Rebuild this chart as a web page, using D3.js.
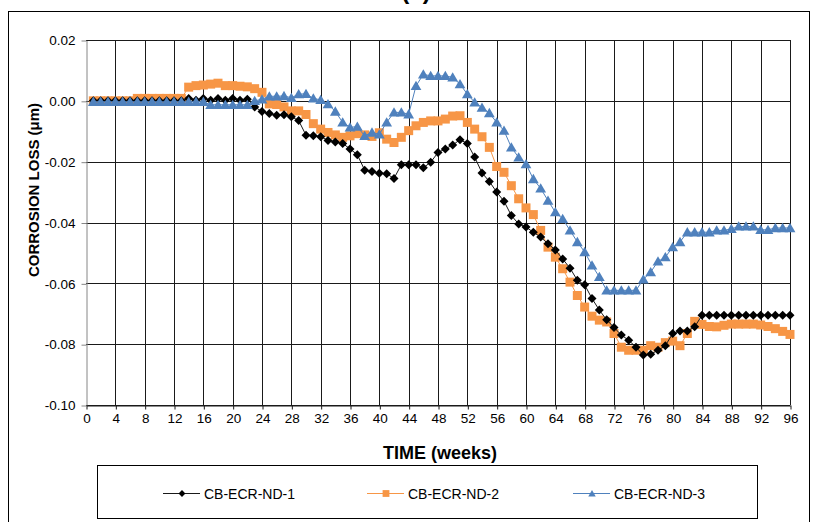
<!DOCTYPE html>
<html>
<head>
<meta charset="utf-8">
<script src="https://cdn.jsdelivr.net/npm/d3@7"></script>
<style>
body { margin: 0; background: #fff; }
svg { display: block; font-family: "Liberation Sans", Arial, sans-serif; }
</style>
</head>
<body>
<svg width="816" height="522"></svg>
<script>
var xTicks = [0, 4, 8, 12, 16, 20, 24, 28, 32, 36, 40, 44, 48, 52, 56, 60, 64, 68, 72, 76, 80, 84, 88, 92, 96]
var yTicks = [0.02, 0.00, -0.02, -0.04, -0.06, -0.08, -0.10]
var seriesNames = ['CB-ECR-ND-1', 'CB-ECR-ND-2', 'CB-ECR-ND-3']

// corrosion loss per week, weeks 1..96
var nd1 = [0, 0, 0, 0, 0, 0, 0, 0, 0, 0, 0, 0, 0,
    0.0008, 0.0002, 0.0008, 0.0002, 0.0008, 0.0002, 0.0008, 0.0002, 0.0005,
    -0.002, -0.0035, -0.0042, -0.0047, -0.0046, -0.0052, -0.0065, -0.0113, -0.0115, -0.0118,
    -0.013, -0.0135, -0.014, -0.0158, -0.0177, -0.0228, -0.0232, -0.0238, -0.024, -0.0255,
    -0.021, -0.021, -0.021, -0.022, -0.0202, -0.017, -0.0158, -0.0145, -0.0128, -0.014,
    -0.0185, -0.0237, -0.0265, -0.030, -0.033, -0.0377, -0.0405, -0.0415, -0.0432, -0.0448,
    -0.047, -0.049, -0.052, -0.055, -0.059, -0.0605, -0.065, -0.0688, -0.072, -0.0745,
    -0.077, -0.0787, -0.081, -0.0836, -0.0833, -0.082, -0.0805, -0.0765, -0.0757, -0.0757,
    -0.0743, -0.0705,
    -0.0705, -0.0705, -0.0705, -0.0705, -0.0705, -0.0705, -0.0705, -0.0705, -0.0705, -0.0705, -0.0705, -0.0705]

var nd2 = [0, 0, 0, 0, 0, 0,
    0.0008, 0.0008, 0.0008, 0.0008, 0.0008, 0.0008, 0.0008,
    0.0045, 0.005, 0.0052, 0.0055, 0.0058, 0.005, 0.005, 0.0048, 0.0046, 0.004, 0.0028,
    -0.001, -0.0012, -0.002, -0.0033, -0.0033, -0.0045, -0.0075, -0.0093, -0.0104, -0.0112,
    -0.012, -0.0115, -0.0108, -0.0112, -0.0117, -0.0105, -0.0126, -0.0137, -0.012, -0.0098,
    -0.0082, -0.0071, -0.0066, -0.0066, -0.006, -0.005, -0.0049, -0.0071, -0.0093, -0.0118,
    -0.0153, -0.0216, -0.0235, -0.0279, -0.0322, -0.0352, -0.0374, -0.0426, -0.0481, -0.0514,
    -0.0552, -0.0596, -0.064, -0.0678, -0.0708, -0.0721, -0.0727, -0.0765, -0.081, -0.082,
    -0.082, -0.082, -0.0805, -0.081, -0.0795, -0.079, -0.0805, -0.0765, -0.0725, -0.0735,
    -0.0742, -0.0743, -0.0738, -0.0734, -0.0734, -0.0734, -0.0734, -0.0737, -0.0742, -0.0749,
    -0.0758, -0.0768]

var nd3 = [-0.0003, -0.0003, -0.0003, -0.0003, -0.0003, -0.0003, -0.0003, -0.0003,
    -0.0003, -0.0003, -0.0003, -0.0003, -0.0003, -0.0003, -0.0003, -0.0003,
    -0.0013, -0.0013, -0.0013, -0.0013, -0.0013, -0.0013,
    0.0, 0.0005, 0.0015, 0.0015, 0.0016, 0.001, 0.0022, 0.0023, 0.0008, 0.0003,
    -0.0011, -0.0035, -0.0071, -0.0087, -0.0085, -0.0115, -0.0104, -0.011, -0.0071, -0.0038,
    -0.0038, -0.0044, 0.0049, 0.0087, 0.0082, 0.0082, 0.0082, 0.0077, 0.0055, 0.0022,
    -0.0005, -0.0022, -0.004, -0.0071, -0.0098, -0.0153, -0.0186, -0.0208, -0.0257, -0.0288,
    -0.0328, -0.0366, -0.0388, -0.0426, -0.0464, -0.0497, -0.0541, -0.0579, -0.0623, -0.0623,
    -0.0623, -0.0623, -0.0623, -0.0587, -0.0563, -0.0528, -0.0514, -0.0481, -0.0464, -0.0432,
    -0.0432, -0.0432, -0.0432, -0.0426, -0.0426, -0.0421, -0.0413, -0.0413, -0.0413, -0.0424,
    -0.0424, -0.0418, -0.0418, -0.0418]

var svg = d3.select('svg')
var margin = {left: 86, right: 26, top: 40, bottom: 117}
var width = 816 - margin.left - margin.right
var height = 522 - margin.top - margin.bottom

var x = d3.scaleLinear().domain([0, 96]).range([margin.left, margin.left + width])
var y = d3.scaleLinear().domain([-0.1, 0.02]).range([margin.top + height, margin.top])

// chart frame and clipped title
svg.append('rect')
    .attr('x', 8.5).attr('y', 11.5)
    .attr('width', 801).attr('height', 530)
    .style('fill', 'none').style('stroke', '#000').style('stroke-width', 1)

svg.append('text')
    .attr('x', 416).attr('y', -1)
    .attr('text-anchor', 'middle')
    .style('font-size', '24px').style('font-weight', 'bold')
    .text('(c)')

// grid
var grid = svg.append('g')
grid.selectAll('.vg')
    .data(xTicks.slice(1))
    .enter().append('line')
    .attr('x1', d => Math.round(x(d)) + 0.5).attr('x2', d => Math.round(x(d)) + 0.5)
    .attr('y1', y(0.02)).attr('y2', y(-0.1))
    .style('stroke', '#1a1a1a').style('stroke-width', 1)
grid.selectAll('.hg')
    .data(yTicks)
    .enter().append('line')
    .attr('x1', x(0)).attr('x2', x(96))
    .attr('y1', d => Math.round(y(d)) + 0.5).attr('y2', d => Math.round(y(d)) + 0.5)
    .style('stroke', '#1a1a1a').style('stroke-width', 1)

// axes
var yAxis = svg.append('g')
    .attr('transform', `translate(${margin.left + 0.5},0.5)`)
    .call(d3.axisLeft(y).tickValues(yTicks).tickFormat(d => d.toFixed(2)).tickSize(5).tickSizeOuter(0).tickPadding(6))
yAxis.select('.domain').style('stroke', '#868686')
yAxis.selectAll('.tick line').style('stroke', '#868686')
yAxis.selectAll('text').style('font-size', '13.5px').style('font-family', '"Liberation Sans", Arial, sans-serif').style('fill', '#000')

var xAxis = svg.append('g')
    .attr('transform', `translate(0.5,${Math.round(y(-0.1)) + 0.5})`)
    .call(d3.axisBottom(x).tickValues(xTicks).tickSize(4).tickSizeOuter(0).tickPadding(4))
xAxis.select('.domain').style('stroke', '#1a1a1a')
xAxis.selectAll('.tick line').style('stroke', '#1a1a1a')
xAxis.selectAll('text').style('font-size', '13.5px').style('font-family', '"Liberation Sans", Arial, sans-serif').style('fill', '#000')

svg.append('text')
    .attr('x', 440).attr('y', 459)
    .attr('text-anchor', 'middle')
    .style('font-size', '18px').style('font-weight', 'bold')
    .text('TIME (weeks)')

svg.append('text')
    .attr('transform', 'translate(39,190) rotate(-90)')
    .attr('text-anchor', 'middle')
    .style('font-size', '15px').style('font-weight', 'bold')
    .text('CORROSION LOSS (\u03bcm)')

// marker shapes
function markerPath(shape, r) {
    if (shape == 'diamond') return `M0,${-r}L${r},0L0,${r}L${-r},0Z`
    if (shape == 'square') return `M${-r},${-r}H${r}V${r}H${-r}Z`
    return `M0,${-r * 1.05}L${r * 1.1},${r * 0.85}L${-r * 1.1},${r * 0.85}Z`
}

var series = [
    {name: seriesNames[0], values: nd1, color: '#000000', line: '#1a1a1a', shape: 'diamond', r: 4.5},
    {name: seriesNames[1], values: nd2, color: '#F79646', line: '#F79646', shape: 'square', r: 4.5},
    {name: seriesNames[2], values: nd3, color: '#4F81BD', line: '#4F81BD', shape: 'triangle', r: 4.9}
]

var line = d3.line()
    .x((d, i) => x(i + 1))
    .y(d => y(d))

// draw order: orange, black, blue
var order = [1, 0, 2]
order.forEach(function(k) {
    var s = series[k]
    var g = svg.append('g')
    g.append('path')
        .attr('d', line(s.values))
        .style('fill', 'none')
        .style('stroke', s.line)
        .style('stroke-width', 1)
    g.selectAll('path.m')
        .data(s.values)
        .enter().append('path')
        .attr('class', 'm')
        .attr('transform', (d, i) => `translate(${x(i + 1)},${y(d)})`)
        .attr('d', markerPath(s.shape, s.r))
        .style('fill', s.color)
})

// legend
var legend = svg.append('g')
legend.append('rect')
    .attr('x', 97.5).attr('y', 465.5)
    .attr('width', 660).attr('height', 53)
    .style('fill', '#fff').style('stroke', '#000').style('stroke-width', 1)

var legendX = [163, 367, 573]
series.forEach(function(s, i) {
    var lg = legend.append('g').attr('transform', `translate(${legendX[i]},493)`)
    lg.append('line')
        .attr('x1', 0).attr('x2', 37)
        .attr('y1', 0.5).attr('y2', 0.5)
        .style('stroke', s.line).style('stroke-width', 1)
    lg.append('path')
        .attr('transform', 'translate(19,0.5)')
        .attr('d', markerPath(s.shape, 3.4))
        .style('fill', s.color)
    lg.append('text')
        .attr('x', 41).attr('y', 5.5)
        .style('font-size', '14px')
        .text(s.name)
})
</script>
</body>
</html>
